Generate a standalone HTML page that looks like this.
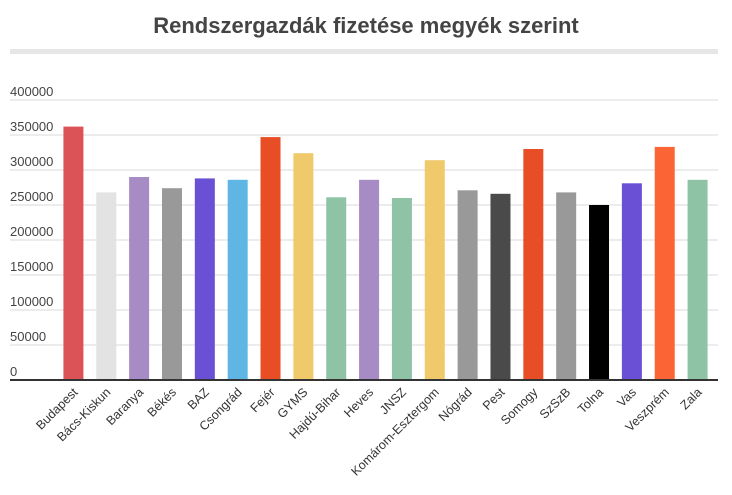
<!DOCTYPE html>
<html><head><meta charset="utf-8"><style>
body{margin:0;background:#fff;font-family:"Liberation Sans",sans-serif;}
svg text{font-family:"Liberation Sans",sans-serif;}
</style></head><body>
<svg width="732" height="490">
<text x="366" y="33" text-anchor="middle" font-size="22" font-weight="bold" fill="#444">Rendszergazdák fizetése megyék szerint</text>
<rect x="10" y="49" width="708" height="5" fill="#e6e6e6"/>
<g id="grid"></g><g id="bars"></g><g id="xl"></g>
<rect x="10" y="379" width="708" height="2" fill="#333"/>
</svg>
<script>
const categories=["Budapest","Bács-Kiskun","Baranya","Békés","BAZ","Csongrád","Fejér","GYMS","Hajdú-Bihar","Heves","JNSZ","Komárom-Esztergom","Nógrád","Pest","Somogy","SzSzB","Tolna","Vas","Veszprém","Zala"];
const values=[362000,268000,290000,274000,288000,286000,347000,324000,261000,286000,260000,314000,271000,266000,330000,268000,250000,281000,333000,286000];
const colors=["#db5357","#e3e3e3","#a78bc4","#999999","#6a50d5","#5fb6e5","#e84e25","#efc96a","#8fc3a6","#a78bc4","#8fc3a6","#efc96a","#999999","#4a4a4a","#e84e25","#999999","#000000","#6a50d5","#fb6535","#8fc3a6"];
const ticks=[0,50000,100000,150000,200000,250000,300000,350000,400000];
const NS="http://www.w3.org/2000/svg";
const y=v=>380-v/400000*280;
const x0=57,band=32.85;
const cx=i=>x0+band*i+band/2;
const grid=document.getElementById('grid');
ticks.forEach(t=>{
 if(t>0){const l=document.createElementNS(NS,'line');
 l.setAttribute('x1',10);l.setAttribute('x2',718);l.setAttribute('y1',y(t));l.setAttribute('y2',y(t));
 l.setAttribute('stroke','#d9d9d9');
 
 
 grid.appendChild(l);}
 const tx=document.createElementNS(NS,'text');
 tx.setAttribute('x',10);tx.setAttribute('y',y(t)-4);tx.setAttribute('font-size','13');tx.setAttribute('fill','#444');
 tx.textContent=t;
 
 
 grid.appendChild(tx);
});
const bars=document.getElementById('bars'),xl=document.getElementById('xl');
categories.forEach((c,i)=>{
 const r=document.createElementNS(NS,'rect');
 r.setAttribute('x',cx(i)-10);r.setAttribute('width',20);r.setAttribute('y',y(values[i]));r.setAttribute('height',380-y(values[i]));
 r.setAttribute('fill',colors[i]);
 
 
 bars.appendChild(r);
 const t=document.createElementNS(NS,'text');
 t.setAttribute('transform','translate('+(cx(i)+5)+',393) rotate(-45)');
 t.setAttribute('text-anchor','end');t.setAttribute('font-size','12.5');t.setAttribute('fill','#333');
 t.textContent=c;
 
 
 xl.appendChild(t);
});
</script>
</body></html>
